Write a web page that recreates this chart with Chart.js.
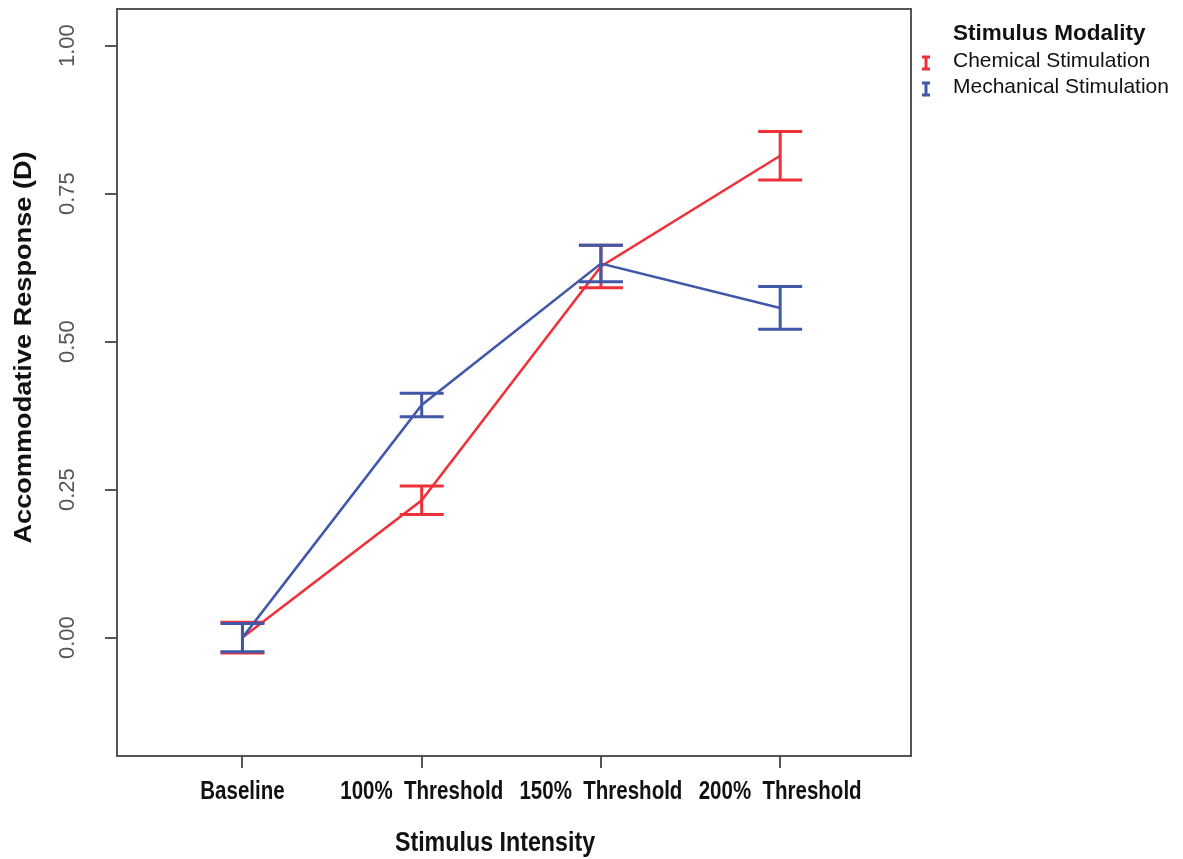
<!DOCTYPE html>
<html>
<head>
<meta charset="utf-8">
<script src="https://cdn.jsdelivr.net/npm/chart.js@4/dist/chart.umd.min.js"></script>
<style>
  html, body { margin: 0; padding: 0; background: #ffffff; }
  #wrap { width: 1183px; height: 859px; }
</style>
</head>
<body>
<div id="wrap"><canvas id="c" width="1183" height="859"></canvas></div>
<script>
// Stimulus intensity levels (x categories)
const categories = ['Baseline', '100%  Threshold', '150%  Threshold', '200%  Threshold'];
const seriesNames = ['Chemical Stimulation', 'Mechanical Stimulation'];
const legendTitle = 'Stimulus Modality';
const xTitle = 'Stimulus Intensity';
const yTitle = 'Accommodative Response (D)';

// Mean accommodative response (D) and half-width of the error bars
const chemicalMean = [0.000, 0.232, 0.627, 0.814];
const chemicalErr  = [0.026, 0.024, 0.036, 0.041];
const mechanicalMean = [0.000, 0.393, 0.632, 0.557];
const mechanicalErr  = [0.024, 0.020, 0.031, 0.036];

const yTicks = [0, 0.25, 0.5, 0.75, 1.0];

const colors = ['#ee3039', '#4157a8'];
const frameColor = '#555555';
const textColor = '#111111';

function points(means) {
  return means.map((v, i) => ({ x: i, y: v }));
}

// Error bars (stem + caps) for each dataset, drawn right after its line
const errorBars = {
  id: 'errorBars',
  afterDatasetDraw(chart, args) {
    const ds = chart.data.datasets[args.index];
    const xs = chart.scales.x, ys = chart.scales.y;
    const ctx = chart.ctx;
    const capHalf = 22;
    ctx.save();
    ctx.strokeStyle = ds.borderColor;
    ctx.lineWidth = 3;
    ctx.lineCap = 'butt';
    ds.data.forEach((p, i) => {
      const e = ds.errors[i];
      const px = xs.getPixelForValue(p.x);
      const top = ys.getPixelForValue(p.y + e);
      const bot = ys.getPixelForValue(p.y - e);
      ctx.beginPath();
      ctx.moveTo(px, top); ctx.lineTo(px, bot);
      ctx.moveTo(px - capHalf, top); ctx.lineTo(px + capHalf, top);
      ctx.moveTo(px - capHalf, bot); ctx.lineTo(px + capHalf, bot);
      ctx.stroke();
    });
    ctx.restore();
  }
};

// Condensed text helper: squeezes glyphs horizontally in the current frame
function condensedText(ctx, text, x, y, squeeze) {
  ctx.save();
  ctx.translate(x, y);
  ctx.scale(squeeze, 1);
  ctx.fillText(text, 0, 0);
  ctx.restore();
}

// Frame around the plotting region, category labels, axis titles and the legend
const decorations = {
  id: 'decorations',
  beforeDatasetsDraw(chart) {
    const { ctx, chartArea: a } = chart;
    ctx.save();
    ctx.strokeStyle = frameColor;
    ctx.lineWidth = 2;
    ctx.strokeRect(a.left, a.top, a.right - a.left, a.bottom - a.top);
    ctx.restore();
  },
  afterDraw(chart) {
    const { ctx, chartArea: a } = chart;
    const xs = chart.scales.x;
    ctx.save();
    ctx.fillStyle = textColor;
    ctx.textAlign = 'center';
    ctx.textBaseline = 'middle';

    // category labels under the x ticks
    ctx.font = "bold 25px 'Liberation Sans', sans-serif";
    xs.ticks.forEach(t => {
      condensedText(ctx, categories[t.value], xs.getPixelForValue(t.value), a.bottom + 36, 0.82);
    });

    // x title
    ctx.font = "bold 28px 'Liberation Sans', sans-serif";
    condensedText(ctx, xTitle, (a.left + a.right) / 2 - 19, a.bottom + 87, 0.83);

    // y title (rotated, reading upwards)
    ctx.save();
    ctx.translate(25, (a.top + a.bottom) / 2 - 35);
    ctx.rotate(-Math.PI / 2);
    ctx.font = "bold 23px 'Liberation Sans', sans-serif";
    condensedText(ctx, yTitle, 0, 0, 1.18);
    ctx.restore();
    ctx.restore();

    // legend
    ctx.save();
    const lx = a.right + 42;
    ctx.fillStyle = textColor;
    ctx.textAlign = 'left';
    ctx.textBaseline = 'middle';
    ctx.font = "bold 22.5px 'Liberation Sans', sans-serif";
    ctx.fillText(legendTitle, lx, 34);
    ctx.font = "21px 'Liberation Sans', sans-serif";
    chart.data.datasets.forEach((ds, i) => {
      const cy = 61 + i * 26;
      ctx.fillStyle = textColor;
      ctx.fillText(ds.label, lx, cy);
      // small error-bar glyph
      const ix = a.right + 15, iy = cy + 2;
      ctx.strokeStyle = ds.borderColor;
      ctx.lineWidth = 3;
      ctx.beginPath();
      ctx.moveTo(ix, iy - 6); ctx.lineTo(ix, iy + 6);
      ctx.moveTo(ix - 4, iy - 6); ctx.lineTo(ix + 4, iy - 6);
      ctx.moveTo(ix - 4, iy + 6); ctx.lineTo(ix + 4, iy + 6);
      ctx.stroke();
    });
    ctx.restore();
  }
};

new Chart(document.getElementById('c'), {
  type: 'line',
  data: {
    datasets: [
      { label: seriesNames[0], data: points(chemicalMean), errors: chemicalErr,
        borderColor: colors[0], backgroundColor: colors[0], borderWidth: 2.5,
        pointRadius: 0, tension: 0, order: 1 },
      { label: seriesNames[1], data: points(mechanicalMean), errors: mechanicalErr,
        borderColor: colors[1], backgroundColor: colors[1], borderWidth: 2.5,
        pointRadius: 0, tension: 0, order: 0 }
    ]
  },
  options: {
    responsive: false,
    animation: false,
    devicePixelRatio: 1,
    layout: { padding: { left: 0, top: 9, right: 272, bottom: 0 } },
    plugins: { legend: { display: false }, tooltip: { enabled: false } },
    scales: {
      x: {
        type: 'linear',
        min: -0.7, max: 3.73,
        afterBuildTicks: (s) => { s.ticks = categories.map((_, i) => ({ value: i })); },
        afterFit: (s) => { s.height = 103; s.paddingLeft = 0; s.paddingRight = 0; },
        border: { display: false },
        grid: { drawOnChartArea: false, drawTicks: true, tickLength: 12, color: frameColor, lineWidth: 2 },
        ticks: { display: false, autoSkip: false }
      },
      y: {
        type: 'linear',
        min: -0.2, max: 1.062,
        afterBuildTicks: (s) => { s.ticks = yTicks.map(v => ({ value: v })); },
        afterFit: (s) => { s.width = 117; s.paddingTop = 0; s.paddingBottom = 0; },
        border: { display: false },
        grid: { drawOnChartArea: false, drawTicks: true, tickLength: 12, color: frameColor, lineWidth: 2 },
        ticks: {
          minRotation: 90, maxRotation: 90, crossAlign: 'center', padding: 16,
          color: '#555555',
          font: { family: "'Liberation Sans', sans-serif", size: 22 },
          callback: (v) => v.toFixed(2)
        }
      }
    }
  },
  plugins: [errorBars, decorations]
});
</script>
</body>
</html>
